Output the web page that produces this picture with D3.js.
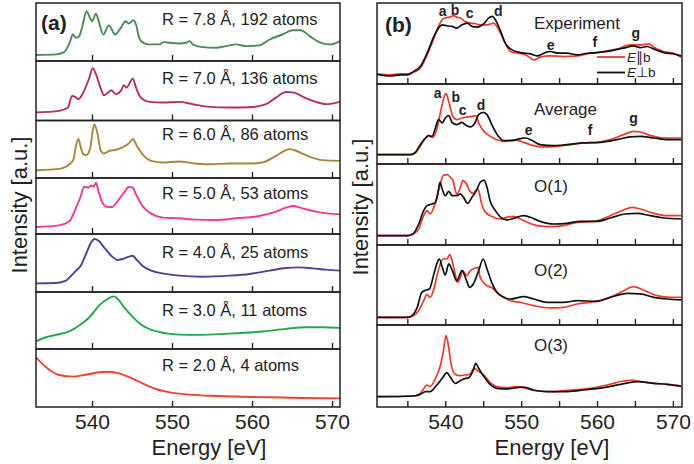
<!DOCTYPE html>
<html>
<head>
<meta charset="utf-8">
<script src="https://cdn.jsdelivr.net/npm/d3@7"></script>
<style>
  html, body { margin: 0; padding: 0; background: #fff; }
  svg { display: block; font-family: "Liberation Sans", Arial, Helvetica, sans-serif; }
</style>
</head>
<body>
<svg id="chart" width="694" height="464"></svg>
<script>
// ---- Panel (a): cluster-size convergence, [energy eV, intensity a.u.] ----
const radii = ["7.8", "7.0", "6.0", "5.0", "4.0", "3.0", "2.0"];
const atomCounts = [192, 136, 86, 53, 25, 11, 4];

const r78 = [[533,0.103],[535.5,0.114],[536.5,0.154],[537.2,0.314],[537.6,0.457],[538.0,0.40],[538.4,0.43],
  [538.8,0.60],[539.3,0.857],[539.75,0.743],[540.0,0.686],[540.5,0.817],[540.9,0.657],[541.4,0.457],
  [542.1,0.611],[542.9,0.457],[543.6,0.571],[544.2,0.686],[544.6,0.646],[545.2,0.703],[545.5,0.629],
  [545.9,0.40],[546.4,0.314],[547.2,0.286],[548.4,0.286],[549.0,0.326],[549.7,0.314],[550.9,0.303],
  [551.75,0.314],[552.2,0.343],[552.6,0.286],[553.8,0.24],[555.5,0.229],[556.75,0.257],[558.0,0.286],
  [559.25,0.257],[560.9,0.269],[562.2,0.371],[563.8,0.457],[565.1,0.531],[566.1,0.531],[567.2,0.429],
  [568.4,0.326],[569.7,0.286],[571.0,0.343]];

const r70 = [[533,0.134],[535.9,0.162],[537.0,0.218],[537.5,0.413],[537.9,0.397],[538.3,0.358],[538.8,0.441],
  [539.6,0.693],[540.1,0.877],[540.5,0.777],[541.1,0.536],[541.5,0.425],[542.0,0.469],[542.4,0.508],
  [543.0,0.441],[543.6,0.497],[544.0,0.592],[544.3,0.553],[545.1,0.704],[545.5,0.553],[546.1,0.385],
  [547.2,0.313],[548.8,0.302],[550.9,0.313],[552.6,0.274],[554.7,0.229],[557.2,0.218],[559.7,0.223],
  [561.75,0.274],[563.0,0.385],[564.25,0.48],[565.3,0.469],[566.3,0.402],[568.0,0.313],[569.25,0.274],
  [571.0,0.313]];

const r60 = [[533,0.135],[536.1,0.164],[537.2,0.24],[537.7,0.327],[538.0,0.561],[538.3,0.678],[538.6,0.532],
  [538.9,0.415],[539.3,0.398],[539.75,0.503],[540.1,0.825],[540.3,0.93],[540.7,0.766],[541.1,0.474],
  [541.5,0.427],[542.2,0.474],[543.0,0.491],[543.8,0.532],[544.6,0.602],[545.1,0.678],[545.6,0.561],
  [546.3,0.415],[547.4,0.298],[548.8,0.269],[550.9,0.287],[552.6,0.257],[554.7,0.24],[557.2,0.251],
  [559.7,0.251],[561.3,0.269],[563.0,0.386],[564.7,0.503],[565.5,0.474],[567.2,0.368],[568.8,0.31],
  [571.0,0.298]];

const r50 = [[533,0.125],[535.9,0.155],[537.2,0.232],[538.0,0.47],[538.6,0.679],[539.0,0.845],[539.5,0.827],
  [539.9,0.869],[540.2,0.845],[540.5,0.917],[540.8,0.768],[541.3,0.56],[542.0,0.482],[542.5,0.482],
  [543.2,0.589],[544.0,0.738],[544.6,0.839],[545.1,0.827],[545.5,0.708],[546.3,0.5],[547.4,0.363],
  [548.8,0.292],[550.9,0.28],[553.0,0.256],[555.5,0.25],[558.0,0.28],[560.9,0.321],[562.6,0.381],
  [564.25,0.47],[565.1,0.5],[566.3,0.458],[568.0,0.399],[569.7,0.363],[571.0,0.351]];

const r40 = [[533,0.149],[535.5,0.155],[536.75,0.195],[537.4,0.282],[538.0,0.368],[538.6,0.454],[539.25,0.655],
  [539.9,0.856],[540.3,0.914],[540.9,0.874],[541.5,0.77],[542.4,0.626],[543.2,0.552],[543.8,0.569],
  [544.6,0.609],[545.1,0.626],[545.5,0.569],[546.3,0.454],[547.4,0.368],[548.8,0.322],[550.9,0.282],
  [553.8,0.264],[557.2,0.282],[559.7,0.31],[562.2,0.368],[564.25,0.414],[565.9,0.425],[567.6,0.408],
  [569.25,0.385],[571.0,0.368]];

const r30 = [[533,0.135],[534.25,0.206],[535.5,0.247],[537.2,0.312],[538.4,0.412],[539.7,0.559],[540.9,0.765],
  [542.0,0.882],[542.7,0.924],[543.2,0.882],[544.0,0.735],[545.1,0.559],[546.3,0.412],[548.0,0.312],
  [549.7,0.265],[552.2,0.247],[554.7,0.253],[558.0,0.276],[561.3,0.306],[564.25,0.353],[566.75,0.382],
  [568.8,0.382],[571.0,0.371]];

const r20 = [[533,0.856],[533.6,0.77],[534.7,0.638],[535.9,0.552],[537.6,0.523],[539.25,0.557],[540.9,0.598],
  [542.2,0.609],[543.4,0.58],[544.7,0.511],[546.3,0.408],[548.0,0.31],[549.7,0.253],[552.2,0.213],
  [555.5,0.19],[558.8,0.178],[562.2,0.167],[566.3,0.155],[571.0,0.149]];

const spectraA = [r78, r70, r60, r50, r40, r30, r20];
const coloursA = ["#4b8b57", "#b5305a", "#a9853a", "#ee3a94", "#553d99", "#22a84a", "#f2412e"];

// ---- Panel (b): E||b (red) and E⊥b (black) spectra ----
const panelNames = ["Experiment", "Average", "O(1)", "O(2)", "O(3)"];
const peakLetters = ["a", "b", "c", "d", "e", "f", "g"];

const expPar = [[531,0.124],[532.75,0.112],[534.1,0.124],[535.0,0.124],[535.8,0.145],[536.7,0.194],[537.6,0.36],
  [538.5,0.566],[539.1,0.711],[539.6,0.793],[540.0,0.814],[540.6,0.826],[541.1,0.843],[541.5,0.826],
  [542.0,0.814],[542.6,0.773],[543.3,0.752],[544.0,0.744],[544.6,0.731],[545.5,0.731],[546.4,0.752],
  [547.0,0.678],[547.7,0.545],[548.6,0.401],[549.5,0.38],[550.6,0.36],[551.65,0.298],[552.5,0.331],
  [553.8,0.347],[555.6,0.339],[557.4,0.347],[559.1,0.38],[560.9,0.401],[562.6,0.43],[564.4,0.483],
  [565.7,0.483],[566.8,0.496],[567.5,0.455],[568.8,0.401],[570.1,0.38],[571.1,0.331]];
const expPerp = [[531,0.12],[532.75,0.099],[534.1,0.112],[535.0,0.112],[535.8,0.153],[536.7,0.215],[537.6,0.38],
  [538.5,0.587],[539.1,0.69],[539.6,0.731],[540.2,0.719],[540.9,0.711],[541.5,0.69],[542.2,0.731],
  [542.9,0.752],[543.5,0.711],[544.2,0.702],[545.1,0.744],[545.7,0.814],[546.2,0.835],[546.6,0.793],
  [547.3,0.649],[547.9,0.504],[548.8,0.421],[549.9,0.388],[551.2,0.372],[552.1,0.347],[553.0,0.38],
  [553.8,0.401],[554.9,0.38],[556.0,0.38],[557.4,0.36],[558.7,0.38],[560.0,0.388],[561.75,0.409],
  [563.5,0.442],[564.8,0.471],[565.7,0.45],[566.6,0.463],[567.5,0.43],[568.8,0.388],[570.1,0.372],
  [571.1,0.347]];

const avgPar = [[531,0.117],[535.4,0.117],[536.05,0.138],[536.7,0.221],[537.4,0.325],[537.8,0.354],[538.25,0.333],
  [538.8,0.408],[539.35,0.638],[539.8,0.825],[540.1,0.879],[540.45,0.783],[541.0,0.596],[541.5,0.554],
  [542.2,0.575],[542.9,0.588],[543.5,0.596],[544.0,0.604],[544.5,0.492],[545.1,0.408],[545.9,0.346],
  [546.8,0.304],[547.7,0.283],[548.6,0.296],[549.45,0.296],[550.3,0.271],[551.65,0.229],[553.0,0.213],
  [554.7,0.221],[556.5,0.242],[558.2,0.263],[560.0,0.271],[561.75,0.304],[563.5,0.367],[564.8,0.408],
  [565.7,0.40],[567.0,0.358],[568.8,0.325],[571.1,0.325]];
const avgPerp = [[531,0.117],[535.4,0.117],[536.05,0.146],[536.7,0.242],[537.4,0.325],[537.8,0.354],[538.25,0.346],
  [538.7,0.45],[539.1,0.554],[539.6,0.513],[540.0,0.575],[540.45,0.604],[540.9,0.521],[541.5,0.492],
  [542.2,0.521],[542.6,0.492],[543.3,0.463],[543.9,0.513],[544.4,0.617],[545.0,0.646],[545.5,0.617],
  [546.2,0.479],[547.0,0.346],[547.7,0.292],[548.6,0.292],[549.9,0.317],[550.55,0.325],[551.4,0.296],
  [552.5,0.242],[554.3,0.229],[556.0,0.242],[558.2,0.263],[560.4,0.271],[562.6,0.304],[564.4,0.338],
  [565.7,0.346],[567.5,0.325],[569.2,0.304],[571.1,0.304]];

const o1Par = [[531,0.115],[535.0,0.115],[535.8,0.136],[536.5,0.198],[537.15,0.362],[537.6,0.424],[538.0,0.383],
  [538.5,0.465],[538.9,0.588],[539.35,0.753],[539.7,0.856],[540.2,0.868],[540.7,0.835],[541.0,0.802],
  [541.5,0.63],[542.0,0.712],[542.3,0.794],[542.8,0.753],[543.2,0.671],[543.7,0.638],[544.2,0.691],
  [544.4,0.671],[544.8,0.506],[545.3,0.403],[546.2,0.35],[547.3,0.321],[548.1,0.342],[549.0,0.354],
  [549.9,0.321],[550.8,0.28],[552.1,0.239],[553.8,0.226],[555.6,0.239],[557.4,0.28],[559.6,0.292],
  [561.75,0.362],[563.5,0.432],[564.6,0.465],[565.7,0.444],[567.5,0.391],[569.2,0.362],[571.1,0.362]];
const o1Perp = [[531,0.115],[535.0,0.115],[535.8,0.144],[536.5,0.259],[537.15,0.424],[537.6,0.486],[538.25,0.506],
  [538.7,0.527],[539.0,0.63],[539.3,0.774],[539.6,0.691],[540.0,0.609],[540.45,0.663],[540.9,0.609],
  [541.5,0.609],[542.0,0.63],[542.4,0.588],[542.95,0.514],[543.5,0.588],[544.1,0.671],[544.6,0.774],
  [545.1,0.802],[545.5,0.712],[545.9,0.547],[546.6,0.424],[547.3,0.342],[548.1,0.309],[549.0,0.329],
  [550.3,0.362],[551.2,0.342],[552.5,0.292],[554.3,0.259],[556.0,0.267],[557.8,0.292],[560.0,0.292],
  [561.75,0.333],[563.7,0.383],[565.3,0.391],[567.0,0.362],[568.8,0.333],[571.1,0.321]];

const o2Par = [[531,0.096],[535.0,0.096],[535.8,0.117],[536.5,0.179],[537.15,0.304],[537.6,0.379],[538.0,0.346],
  [538.5,0.45],[538.9,0.617],[539.35,0.763],[539.7,0.825],[540.2,0.825],[540.6,0.879],[540.9,0.804],
  [541.3,0.638],[541.6,0.533],[542.0,0.596],[542.3,0.679],[542.8,0.617],[543.3,0.679],[544.0,0.713],
  [544.3,0.721],[544.6,0.596],[545.3,0.504],[546.2,0.463],[546.8,0.408],[547.7,0.346],[548.6,0.304],
  [549.9,0.283],[551.65,0.242],[553.8,0.213],[555.6,0.221],[557.4,0.263],[559.6,0.292],[561.75,0.346],
  [563.5,0.429],[564.8,0.479],[566.1,0.438],[567.9,0.367],[569.7,0.346],[571.1,0.346]];
const o2Perp = [[531,0.096],[535.0,0.096],[535.6,0.117],[536.3,0.221],[536.9,0.408],[537.5,0.438],[537.9,0.45],
  [538.5,0.638],[538.9,0.771],[539.2,0.825],[539.6,0.721],[540.0,0.625],[540.45,0.763],[540.9,0.688],
  [541.5,0.554],[542.2,0.679],[542.8,0.554],[543.2,0.471],[543.7,0.513],[544.4,0.679],[545.0,0.825],
  [545.5,0.70],[546.2,0.513],[546.8,0.408],[547.7,0.346],[548.6,0.325],[550.3,0.354],[551.65,0.325],
  [553.4,0.283],[555.6,0.283],[557.4,0.304],[560.0,0.296],[561.75,0.346],[564.0,0.396],[565.7,0.388],
  [567.5,0.346],[569.2,0.325],[571.1,0.313]];

const o3Par = [[531,0.126],[535.8,0.134],[536.7,0.167],[537.2,0.228],[537.6,0.268],[538.0,0.248],[538.7,0.35],
  [539.25,0.472],[539.7,0.654],[540.1,0.87],[540.4,0.756],[540.75,0.533],[541.3,0.398],[542.0,0.382],
  [542.6,0.39],[543.2,0.398],[543.8,0.472],[544.4,0.431],[545.1,0.39],[545.9,0.301],[546.8,0.248],
  [548.1,0.236],[549.45,0.248],[550.3,0.236],[552.1,0.195],[554.3,0.187],[556.5,0.207],[559.1,0.228],
  [561.3,0.268],[563.5,0.317],[564.6,0.329],[565.7,0.309],[567.5,0.289],[569.2,0.276],[571.1,0.248]];
const o3Perp = [[531,0.126],[535.8,0.134],[536.7,0.154],[537.4,0.187],[538.0,0.187],[538.7,0.248],[539.6,0.35],
  [540.2,0.419],[540.7,0.358],[541.3,0.289],[541.9,0.317],[542.4,0.341],[543.1,0.358],[543.7,0.451],
  [544.0,0.533],[544.4,0.472],[545.1,0.37],[545.9,0.276],[546.8,0.228],[548.1,0.22],[549.45,0.236],
  [550.3,0.244],[551.65,0.207],[553.4,0.187],[555.6,0.187],[558.2,0.207],[560.9,0.236],[563.1,0.276],
  [565.3,0.309],[567.5,0.289],[569.2,0.276],[571.1,0.256]];

const spectraPar = [expPar, avgPar, o1Par, o2Par, o3Par];
const spectraPerp = [expPerp, avgPerp, o1Perp, o2Perp, o3Perp];

const energyTicks = [540, 550, 560, 570];
const minorTicks = [535, 545, 555, 565];

// ---- Drawing ----
const svg = d3.select("#chart");
const FONT = "\"Liberation Sans\", Arial, Helvetica, sans-serif";
const RED = "#ee3a2a", BLACK = "#111";

function drawRows(cfg) {
  const { x, bounds, ticks, lines, labelTicks, clipId } = cfg;
  const [x0, x1] = x.range();
  bounds.slice(0, -1).forEach((top, i) => {
    const bottom = bounds[i + 1];
    const y = d3.scaleLinear([0, 1], [bottom, top]);
    const g = svg.append("g");
    const cid = clipId + i;
    svg.append("clipPath").attr("id", cid)
      .append("rect").attr("x", x0).attr("y", top).attr("width", x1 - x0).attr("height", bottom - top);
    const line = d3.line().x(d => x(d[0])).y(d => y(d[1])).curve(d3.curveMonotoneX);
    lines(i).forEach(s => {
      g.append("path").datum(s.data)
        .attr("clip-path", `url(#${cid})`)
        .attr("fill", "none").attr("stroke", s.color).attr("stroke-width", s.width)
        .attr("stroke-linejoin", "round").attr("d", line);
    });
    // inward ticks along the lower edge of each row
    const ax = svg.append("g").attr("transform", `translate(0,${bottom})`)
      .call(d3.axisTop(x).tickValues(ticks).tickSize(6).tickFormat(""));
    ax.select(".domain").remove();
    ax.selectAll("line").attr("stroke", "#222").attr("stroke-width", 1.4);
    svg.append("rect").attr("x", x0).attr("y", top).attr("width", x1 - x0).attr("height", bottom - top)
      .attr("fill", "none").attr("stroke", "#222").attr("stroke-width", 1.5);
    cfg.decorate && cfg.decorate(i, y, top, bottom);
  });
  const last = bounds[bounds.length - 1];
  const lab = svg.append("g").attr("transform", `translate(0,${last})`)
    .call(d3.axisBottom(x).tickValues(labelTicks).tickSize(0).tickPadding(7).tickFormat(d3.format("d")));
  lab.select(".domain").remove();
  lab.selectAll("text").attr("font-size", 21).attr("font-family", FONT).attr("fill", "#222");
}

// Panel (a)
const xA = d3.scaleLinear([533, 571], [36, 340]);
const boundsA = [3, 61, 120.5, 178, 234, 292, 349, 407];
const labelOffsetA = [22, 23, 19, 20.5, 24, 24, 21.5];
drawRows({
  x: xA, bounds: boundsA, ticks: energyTicks, labelTicks: energyTicks, clipId: "clipA",
  lines: i => [{ data: spectraA[i], color: coloursA[i], width: 1.9 }],
  decorate: (i, y, top) => {
    svg.append("text").attr("x", 162).attr("y", top + labelOffsetA[i])
      .attr("font-size", 16.5).attr("font-family", FONT).attr("fill", "#222")
      .text(`R = ${radii[i]} Å, ${atomCounts[i]} atoms`);
  }
});

// Panel (b)
const xB = d3.scaleLinear([531, 571.2], [377, 682]);
const boundsB = [3, 84, 164, 245, 325, 407];
const nameBaseline = [26, 31, 28, 31, 26];
drawRows({
  x: xB, bounds: boundsB, ticks: energyTicks.concat(minorTicks), labelTicks: energyTicks, clipId: "clipB",
  lines: i => [
    { data: spectraPar[i], color: RED, width: 1.7 },
    { data: spectraPerp[i], color: BLACK, width: 1.7 }
  ],
  decorate: (i, y, top) => {
    svg.append("text").attr("x", 534).attr("y", top + nameBaseline[i])
      .attr("font-size", 17).attr("font-family", FONT).attr("fill", "#222")
      .text(panelNames[i]);
  }
});

// Peak letters on the experimental and averaged spectra
const letterAtExp = [[539.66, 11.3], [541.3, 10], [543.2, 13], [547.0, 11.3], [553.9, 44.7], [559.7, 42], [565.1, 33]];
const letterAtAvg = [[539.0, 93], [541.4, 97.3], [542.3, 110], [544.7, 104.7], [551.0, 130.3], [559.1, 129.7], [564.8, 118]];
[letterAtExp, letterAtAvg].forEach(set => {
  svg.append("g").selectAll("text").data(set).join("text")
    .attr("x", d => xB(d[0])).attr("y", d => d[1]).attr("dy", "0.35em")
    .attr("text-anchor", "middle").attr("font-size", 14).attr("font-weight", "bold")
    .attr("font-family", FONT).attr("fill", "#222")
    .text((d, i) => peakLetters[i]);
});

// Polarisation legend
const legend = [{ color: RED, rel: "∥", y: 57 }, { color: BLACK, rel: "⊥", y: 72.5 }];
legend.forEach(l => {
  svg.append("line").attr("x1", 597).attr("x2", 625).attr("y1", l.y).attr("y2", l.y)
    .attr("stroke", l.color).attr("stroke-width", 1.8);
  const t = svg.append("text").attr("x", 627).attr("y", l.y).attr("dy", "0.36em")
    .attr("font-size", 13.5).attr("font-family", FONT).attr("fill", "#222");
  t.append("tspan").attr("font-style", "italic").text("E");
  t.append("tspan").text(l.rel + "b");
});

// Panel tags
svg.append("text").attr("x", 41).attr("y", 30).attr("font-size", 21).attr("font-weight", "bold")
  .attr("font-family", FONT).attr("fill", "#222").text("(a)");
svg.append("text").attr("x", 385).attr("y", 32).attr("font-size", 21).attr("font-weight", "bold")
  .attr("font-family", FONT).attr("fill", "#222").text("(b)");

// Axis titles
[[209, 27], [552, 368]].forEach(([ex, iy], k) => {
  svg.append("text").attr("x", ex).attr("y", 455).attr("text-anchor", "middle")
    .attr("font-size", 22).attr("font-family", FONT).attr("fill", "#222").text("Energy [eV]");
  svg.append("text").attr("transform", `translate(${iy},${k ? 207 : 205}) rotate(-90)`)
    .attr("text-anchor", "middle").attr("font-size", 22).attr("font-family", FONT).attr("fill", "#222")
    .text("Intensity [a.u.]");
});
</script>
</body>
</html>
